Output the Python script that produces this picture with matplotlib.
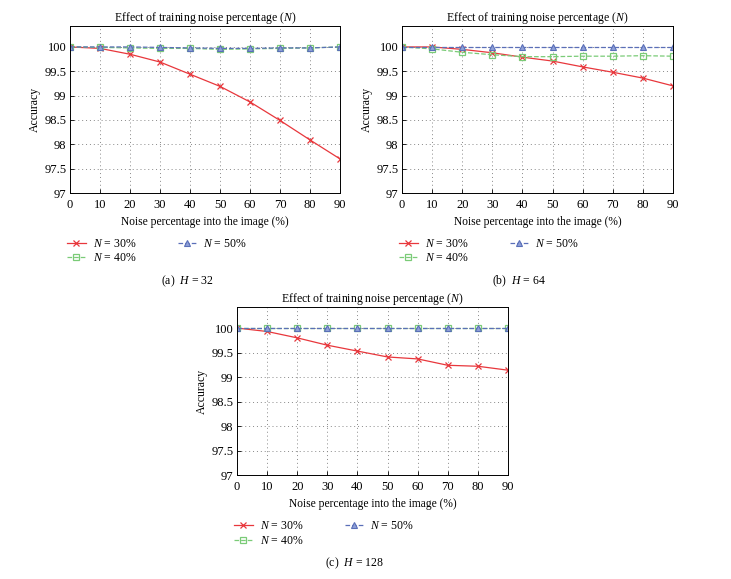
import numpy as np
import matplotlib
matplotlib.use('Agg')
import matplotlib.pyplot as plt

plt.rcParams['font.family'] = 'Liberation Serif'
plt.rcParams['mathtext.fontset'] = 'custom'
plt.rcParams['mathtext.rm'] = 'Liberation Serif'
plt.rcParams['mathtext.it'] = 'Liberation Serif:italic'
plt.rcParams['font.size'] = 9

# --------------------------------------------------------------------------------------------------------------------
# Data:
# --------------------------------------------------------------------------------------------------------------------
noise = [0, 10, 20, 30, 40, 50, 60, 70, 80, 90]

# (a) H = 32
a_n30 = [100, 99.97, 99.85, 99.69, 99.44, 99.19, 98.87, 98.49, 98.09, 97.70]
a_n40 = [100, 99.99, 99.98, 99.97, 99.97, 99.95, 99.96, 99.97, 99.98, 100]
a_n50 = [100, 100, 100, 99.99, 99.98, 99.97, 99.97, 99.98, 99.98, 100]

# (b) H = 64
b_n30 = [100, 100, 99.95, 99.88, 99.79, 99.71, 99.59, 99.48, 99.36, 99.20]
b_n40 = [100, 99.96, 99.89, 99.84, 99.80, 99.80, 99.81, 99.81, 99.82, 99.81]
b_n50 = [100, 100, 100, 100, 100, 100, 100, 100, 100, 100]

# (c) H = 128
c_n30 = [100, 99.93, 99.80, 99.65, 99.53, 99.41, 99.37, 99.24, 99.22, 99.14]
c_n40 = [100, 100, 100, 100, 100, 100, 100, 100, 100, 100]
c_n50 = [100, 100, 100, 100, 100, 100, 100, 100, 100, 100]

yticks = [97, 97.5, 98, 98.5, 99, 99.5, 100]
ytick_labels = ['97', '97.5', '98', '98.5', '99', '99.5', '100']
captions = ['(a)  $H$ = 32', '(b)  $H$ = 64', '(c)  $H$ = 128']

red = '#e8373c'
green = '#7acb77'
blue = '#5a6fb8'

fig = plt.figure(figsize=(7.31, 5.79), dpi=100)
W, H = 731.0, 579.0

# axes boxes in pixels: left, top, right, bottom
boxes = [(70, 26, 340, 193), (402, 26, 673, 193), (237, 307, 508, 475)]
panels = [(a_n30, a_n40, a_n50), (b_n30, b_n40, b_n50), (c_n30, c_n40, c_n50)]

for k in range(3):
    l, t, r, b = boxes[k]
    ax = fig.add_axes([l / W, 1 - b / H, (r - l) / W, (b - t) / H])
    n30, n40, n50 = panels[k]
    ax.plot(noise, n30, '-', color=red, lw=0.9, marker='x', ms=5, mew=0.9, label='$N$ = 30%')
    ax.plot(noise, n40, '--', color=green, lw=0.9, marker='s', ms=4.5, mfc='none', mew=0.9, label='$N$ = 40%')
    ax.plot(noise, n50, '--', color=blue, lw=0.9, marker='^', ms=4.5, mfc='#8fa0d8', mew=0.8, label='$N$ = 50%')

    ax.set_xlim(0, 90)
    ax.set_ylim(97, 100.43)
    ax.set_xticks(noise)
    ax.set_yticks(yticks)
    ax.set_yticklabels(ytick_labels)
    ax.grid(True, linestyle=(0, (1, 3)), color='#888888', lw=0.7)
    ax.tick_params(direction='in', length=3, width=0.6, labelsize=9)
    ax.tick_params(axis='x', pad=4)
    ax.tick_params(axis='y', pad=2.5)
    for s in ax.spines.values():
        s.set_linewidth(0.7)

    ax.set_title('Effect of training noise percentage ($N$)', fontsize=8.5, pad=3)
    ax.set_xlabel('Noise percentage into the image (%)', fontsize=8.3, labelpad=4)
    ax.set_ylabel('Accuracy', fontsize=8.5, labelpad=2.5)

    ax.legend(ncol=2, loc='upper left', bbox_to_anchor=(-0.01, -0.27), frameon=False,
              fontsize=8.5, handlelength=1.55, handletextpad=0.6, columnspacing=3.5,
              labelspacing=0.2, borderaxespad=0, borderpad=0)

    cx = ((l + r) / 2 - 18) / W
    fig.text(cx, 1 - (b + 88) / H, captions[k], ha='center', va='center', fontsize=8.5)

fig.savefig('out.png', dpi=100)
